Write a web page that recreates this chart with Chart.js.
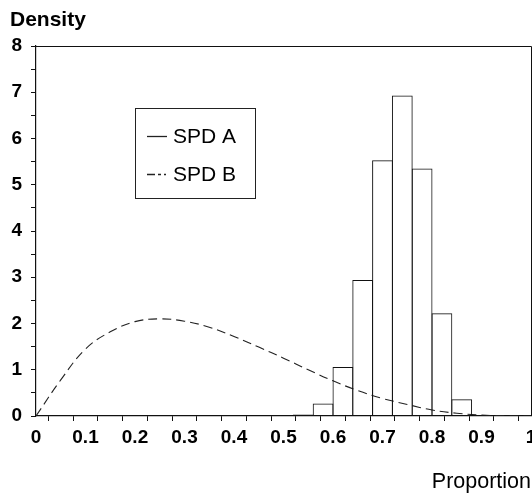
<!DOCTYPE html>
<html>
<head>
<meta charset="utf-8">
<script src="https://cdn.jsdelivr.net/npm/chart.js@4.4.1/dist/chart.umd.min.js"></script>
<style>
  body { margin: 0; background: #fff; }
  canvas { display: block; }
</style>
</head>
<body>
<canvas id="chart1" width="532" height="498"></canvas>
<script>
// histogram of SPD A (bin width 0.04), left edges and densities
const binLeft = [0.48, 0.52, 0.56, 0.60, 0.64, 0.68, 0.72, 0.76, 0.80, 0.84, 0.88, 0.92]
const binDensity = [0.01, 0.03, 0.27, 1.06, 2.94, 5.53, 6.93, 5.35, 2.22, 0.36, 0.02, 0.01]
const binWidth = 0.04

// SPD B curve, read every 0.05
const curveX = [0, 0.05, 0.1, 0.15, 0.2, 0.25, 0.3, 0.35, 0.4, 0.45, 0.5, 0.55, 0.6, 0.65, 0.7, 0.75, 0.8, 0.85, 0.9, 0.95, 1]
const curveY = [0, 0.78, 1.45, 1.82, 2.04, 2.1, 2.05, 1.92, 1.72, 1.49, 1.25, 1.0, 0.76, 0.55, 0.38, 0.25, 0.13, 0.06, 0.02, 0.005, 0]

const legendNames = ['SPD A', 'SPD B']
const yTitle = 'Density'
const xTitle = 'Proportion'

const fontName = '"Liberation Sans", Arial, sans-serif'

const frame = {
    id: 'frame',
    afterDraw(chart) {
        const ctx = chart.ctx
        const a = chart.chartArea
        ctx.save()
        ctx.strokeStyle = '#111'
        ctx.lineWidth = 1
        ctx.beginPath()
        ctx.moveTo(a.left, a.top + 0.5)
        ctx.lineTo(a.right + 0.5, a.top + 0.5)
        ctx.lineTo(a.right + 0.5, a.bottom)
        ctx.stroke()

        // y title above the axis
        ctx.fillStyle = '#000'
        ctx.font = 'bold 21px ' + fontName
        ctx.textBaseline = 'middle'
        ctx.fillText(yTitle, 10, 20)

        // legend box
        ctx.strokeStyle = '#222'
        ctx.strokeRect(135.5, 108.5, 120, 90)
        ctx.font = '21px ' + fontName
        ctx.lineWidth = 1.3
        ctx.beginPath()
        ctx.moveTo(147, 136.5)
        ctx.lineTo(167, 136.5)
        ctx.stroke()
        ctx.setLineDash([8, 3, 3, 3, 2, 20])
        ctx.beginPath()
        ctx.moveTo(147, 174.5)
        ctx.lineTo(172, 174.5)
        ctx.stroke()
        ctx.setLineDash([])
        ctx.fillText(legendNames[0], 173, 137)
        ctx.fillText(legendNames[1], 173, 175)
        ctx.restore()
    }
}

const ctx = document.querySelector('#chart1').getContext('2d')
const chart1 = new Chart(ctx, {
    data: {
        datasets: [{
            type: 'bar',
            label: legendNames[0],
            data: binLeft.map((x, i) => ({ x: x + binWidth / 2, y: binDensity[i] })),
            backgroundColor: 'rgba(0,0,0,0)',
            borderColor: '#111',
            borderWidth: 1,
            borderSkipped: 'bottom',
            barPercentage: 1.05,
            categoryPercentage: 1
        }, {
            type: 'line',
            label: legendNames[1],
            data: curveX.map((x, i) => ({ x: x, y: curveY[i] })),
            borderColor: '#222',
            borderWidth: 1.1,
            borderDash: [9, 5],
            pointRadius: 0,
            tension: 0.4,
            fill: false
        }]
    },
    options: {
        responsive: false,
        animation: false,
        layout: { padding: { left: 0, right: 1, top: 46, bottom: 0 } },
        plugins: {
            legend: { display: false },
            tooltip: { enabled: false }
        },
        scales: {
            x: {
                type: 'linear',
                min: 0,
                max: 1,
                offset: false,
                afterFit(scale) {
                    scale.paddingRight = 0
                    scale.paddingLeft = 0
                    scale.height = 82
                },
                border: { display: true, color: '#111', width: 1.2 },
                grid: { drawOnChartArea: false, tickLength: 5, color: '#111' },
                ticks: {
                    stepSize: 0.05,
                    autoSkip: false,
                    maxRotation: 0,
                    padding: 5,
                    color: '#000',
                    font: { family: fontName, size: 19, weight: 'bold' },
                    callback: v => {
                        const r = Math.round(v * 100)
                        if (r % 10 !== 0) return ''
                        return String(r / 100)
                    }
                },
                title: {
                    display: true,
                    text: xTitle,
                    align: 'end',
                    color: '#000',
                    font: { family: fontName, size: 21.5 },
                    padding: { top: 0, bottom: 3 }
                }
            },
            y: {
                min: 0,
                max: 8,
                afterFit(scale) {
                    scale.width = 36
                    scale.paddingTop = 0
                    scale.paddingBottom = 0
                },
                border: { display: true, color: '#111', width: 1.2 },
                grid: { drawOnChartArea: false, tickLength: 5, color: '#111' },
                ticks: {
                    stepSize: 0.5,
                    autoSkip: false,
                    padding: 9,
                    color: '#000',
                    font: { family: fontName, size: 19, weight: 'bold' },
                    callback: v => Number.isInteger(v) ? String(v) : ''
                }
            }
        }
    },
    plugins: [frame]
})
</script>
</body>
</html>
